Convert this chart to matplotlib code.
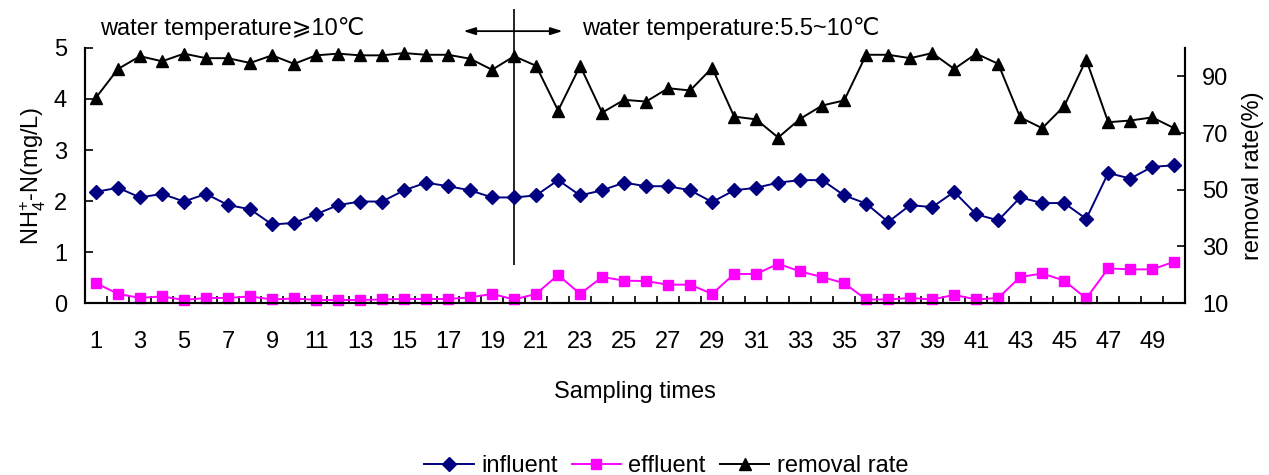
import numpy as np
import matplotlib
matplotlib.use("Agg")
import matplotlib.pyplot as plt
from matplotlib.ticker import FixedLocator

plt.rcParams['font.family'] = ['Liberation Sans', 'DejaVu Sans']
plt.rcParams['mathtext.fontset'] = 'custom'
plt.rcParams['mathtext.rm'] = 'Liberation Sans'
plt.rcParams['mathtext.it'] = 'Liberation Sans'

# ---- data ----
samples = np.arange(1, 51)

influent = [2.18, 2.26, 2.07, 2.14, 1.99, 2.14, 1.92, 1.84, 1.54, 1.57,
            1.74, 1.92, 1.99, 1.99, 2.21, 2.36, 2.29, 2.21, 2.07, 2.07,
            2.11, 2.41, 2.11, 2.21, 2.36, 2.29, 2.29, 2.21, 1.98, 2.21,
            2.26, 2.36, 2.41, 2.41, 2.11, 1.95, 1.59, 1.92, 1.88, 2.18,
            1.74, 1.62, 2.07, 1.96, 1.96, 1.65, 2.55, 2.44, 2.67, 2.70]

effluent = [0.39, 0.18, 0.10, 0.13, 0.06, 0.10, 0.10, 0.13, 0.07, 0.09,
            0.06, 0.06, 0.06, 0.07, 0.08, 0.08, 0.08, 0.11, 0.18, 0.07,
            0.18, 0.55, 0.18, 0.51, 0.44, 0.43, 0.36, 0.36, 0.18, 0.57,
            0.57, 0.77, 0.62, 0.51, 0.39, 0.07, 0.07, 0.10, 0.07, 0.16,
            0.07, 0.10, 0.51, 0.58, 0.44, 0.09, 0.68, 0.66, 0.66, 0.81]

removal = [82.5, 92.6, 97.1, 95.3, 98.0, 96.4, 96.4, 94.7, 97.4, 94.4,
           97.4, 98.0, 97.4, 97.4, 98.2, 97.6, 97.6, 96.2, 92.3, 97.1,
           93.7, 77.9, 93.7, 77.2, 81.7, 81.1, 85.8, 85.0, 93.0, 75.8,
           74.8, 68.4, 75.0, 79.7, 81.5, 97.6, 97.6, 96.4, 98.2, 92.6,
           98.0, 94.4, 75.5, 71.7, 79.5, 95.9, 73.8, 74.4, 75.5, 71.7]

split_at = 20          # sample where water temperature drops below 10 C
tick_labels = [str(i) for i in range(1, 50, 2)]

FS = 17

# ---- figure ----
fig = plt.figure(figsize=(12.69, 4.75), dpi=100)
ax = fig.add_axes([0.067, 0.362, 0.867, 0.537])
ax2 = ax.twinx()

ax.plot(samples, influent, color='#000080', lw=1.4, marker='D', ms=7.5,
        label='influent', clip_on=False, zorder=3)
ax.plot(samples, effluent, color='#FF00FF', lw=1.4, marker='s', ms=7.5,
        label='effluent', clip_on=False, zorder=3)
ax2.plot(samples, removal, color='black', lw=1.4, marker='^', ms=9,
         label='removal rate', clip_on=False, zorder=3)

ax.set_xlim(0.5, 50.5)
ax.set_ylim(0, 5)
ax2.set_ylim(10, 100)
ax.set_yticks(range(0, 6))
ax2.set_yticks([10, 30, 50, 70, 90])

ax.set_xticks(range(1, 50, 2))
ax.set_xticklabels(tick_labels)
ax.xaxis.set_minor_locator(FixedLocator(np.arange(0.5, 51, 1)))
ax.tick_params(axis='x', which='major', length=0, pad=20, labelsize=FS)
ax.tick_params(axis='x', which='minor', direction='in', length=5, width=1.2)
ax.tick_params(axis='y', direction='in', length=6, width=1.2, labelsize=FS, pad=13)
ax2.tick_params(axis='y', direction='in', length=6, width=1.2, labelsize=FS, pad=12)

for a in (ax, ax2):
    a.spines['top'].set_visible(False)
    for s in ('left', 'right', 'bottom'):
        a.spines[s].set_linewidth(1.5)

ax.set_xlabel('Sampling times', fontsize=FS, labelpad=20)
ax.set_ylabel(r'NH$_{4}^{+}$-N(mg/L)', fontsize=FS, labelpad=4)
ax2.set_ylabel('removal rate(%)', fontsize=FS, labelpad=10)

# boundary between the two temperature periods
ax.vlines(split_at, 0.75, 5.76, color='black', lw=1.2, clip_on=False)
ax.annotate('', xy=(17.7, 5.33), xytext=(22.2, 5.33), annotation_clip=False,
            arrowprops=dict(arrowstyle='<|-|>,head_length=0.7,head_width=0.22',
                            color='black', lw=1.3, shrinkA=0, shrinkB=0))
fig.text(0.079, 0.94, 'water temperature⩾10℃', fontsize=FS, va='center')
fig.text(0.459, 0.94, 'water temperature:5.5~10℃', fontsize=FS, va='center')

h1, l1 = ax.get_legend_handles_labels()
h2, l2 = ax2.get_legend_handles_labels()
fig.legend(h1 + h2, l1 + l2, loc='lower center', bbox_to_anchor=(0.525, -0.05),
           ncol=3, frameon=False, fontsize=FS, handlelength=2.1,
           handletextpad=0.3, columnspacing=0.6)

fig.savefig('out.png', dpi=100)
